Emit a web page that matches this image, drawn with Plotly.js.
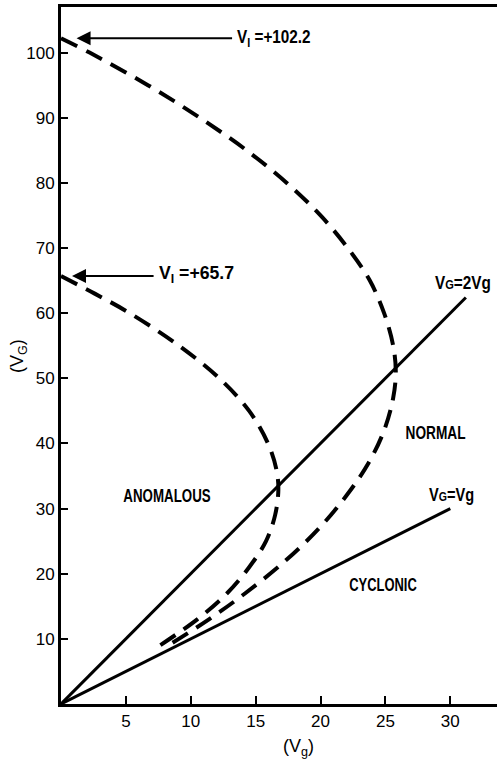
<!DOCTYPE html>
<html>
<head>
<meta charset="utf-8">
<script src="https://cdn.plot.ly/plotly-3.0.1.min.js"></script>
<style>
  html, body { margin: 0; padding: 0; background: #fff; }
  #chart { width: 497px; height: 761px; }
</style>
</head>
<body>
<div id="chart"></div>
<script>
// Gradient-wind speed (V_G) against geostrophic speed (V_g)
// Outer curve: V_I = +102.2
const outerVg = [0, 2.2, 6.7, 10.7, 14.3, 17.4, 20.0, 22.1, 23.8, 24.9, 25.6, 25.8, 25.6, 24.9, 23.7, 22.0, 19.9, 17.3, 14.2, 11.4, 8.6];
const outerVG = [102.2, 100, 95, 90, 85, 80, 75, 70, 65, 60, 55, 51, 47, 42, 37, 32, 27, 22, 17, 13, 9.4];

// Inner curve: V_I = +65.7
const innerVg = [0, 2.6, 5.3, 9.1, 12.2, 14.5, 15.95, 16.6, 16.75, 16.5, 15.8, 14.5, 12.8, 10.5, 7.4];
const innerVG = [65.7, 63, 60, 55, 50, 45, 40, 36, 32.9, 29, 25, 21, 17, 13, 8.7];

// Reference lines V_G = 2V_g and V_G = V_g
const doubleVg = [0, 31.2];
const doubleVG = [0, 62.4];
const equalVg = [0, 30];
const equalVG = [0, 30];

// Curve intercepts on the V_G axis
const interceptOuter = 102.2;
const interceptInner = 65.7;

const xTicks = [5, 10, 15, 20, 25, 30];
const yTicks = [10, 20, 30, 40, 50, 60, 70, 80, 90, 100];

const labelFont = { family: '"Liberation Sans", Arial, sans-serif', size: 18, color: '#000' };
const tickFont = { family: '"Liberation Sans", Arial, sans-serif', size: 17, color: '#000' };

const dashed = { color: '#000', width: 4, dash: '18px,10px', shape: 'spline', smoothing: 1 };
const solid = { color: '#000', width: 3 };

const traces = [
  { x: outerVg, y: outerVG, mode: 'lines', line: dashed, hoverinfo: 'skip' },
  { x: innerVg, y: innerVG, mode: 'lines', line: dashed, hoverinfo: 'skip' },
  { x: doubleVg, y: doubleVG, mode: 'lines', line: solid, hoverinfo: 'skip' },
  { x: equalVg, y: equalVG, mode: 'lines', line: solid, hoverinfo: 'skip' }
];

function arrowTo(yVal, headX, tailX) {
  return {
    x: headX, y: yVal, xref: 'x', yref: 'y',
    ax: tailX, ay: yVal, axref: 'x', ayref: 'y',
    text: '', showarrow: true, arrowhead: 2, arrowsize: 1.4, arrowwidth: 2,
    arrowcolor: '#000', standoff: 0, startstandoff: 0
  };
}

// Condensed lettering: each label carries a horizontal squeeze factor
const squeeze = [];
function label(text, x, y, xanchor, sx) {
  squeeze.push({ text: text, sx: sx, anchor: xanchor || 'center' });
  return {
    x: x, y: y, xref: 'x', yref: 'y', text: text, showarrow: false,
    xanchor: xanchor || 'center', yanchor: 'middle', font: labelFont
  };
}

const smallG = 'V<span style="font-size:13px">G</span>';

const annotations = [
  arrowTo(interceptOuter, 1.2, 13.3),
  label('<b>V<sub>I</sub> =+' + interceptOuter + '</b>', 13.4, 102.1, 'left', 0.85),
  arrowTo(interceptInner, 0.85, 7.25),
  label('<b>V<sub>I</sub> =+' + interceptInner + '</b>', 7.4, 65.9, 'left', 0.98),
  label('<b>' + smallG + '=2Vg</b>', 28.7, 64.6, 'left', 0.85),
  label('<b>' + smallG + '=Vg</b>', 28.2, 32.1, 'left', 0.81),
  label('<b>NORMAL</b>', 28.85, 41.6, 'center', 0.76),
  label('<b>ANOMALOUS</b>', 8.15, 32.0, 'center', 0.74),
  label('<b>CYCLONIC</b>', 24.8, 18.3, 'center', 0.72),
  {
    x: 18, y: 356, xref: 'paper', yref: 'paper', text: '(V<sub>G</sub>)', showarrow: false,
    textangle: -90, font: { family: tickFont.family, size: 18, color: '#000' }
  },
  {
    x: 298, y: 747, xref: 'paper', yref: 'paper', text: '(V<sub>g</sub>)', showarrow: false,
    font: { family: tickFont.family, size: 18, color: '#000' }
  }
];

// Axis titles are placed in pixels, converted to paper coordinates
const W = 497, H = 761, M = { l: 61, r: 0, t: 7, b: 57 };
annotations.forEach(a => {
  if (a.xref === 'paper') {
    a.x = (a.x - M.l) / (W - M.l - M.r);
    a.y = 1 - (a.y - M.t) / (H - M.t - M.b);
    a.xanchor = 'center';
    a.yanchor = 'middle';
  }
});

const layout = {
  width: W, height: H,
  margin: M,
  paper_bgcolor: '#fff', plot_bgcolor: '#fff',
  showlegend: false,
  xaxis: {
    range: [0, 33.6], tickvals: xTicks, ticktext: xTicks.map(String),
    ticks: 'inside', ticklen: 8, tickwidth: 2, tickcolor: '#000',
    showline: true, linewidth: 3, linecolor: '#000', mirror: true,
    showgrid: false, zeroline: false, tickfont: tickFont, fixedrange: true
  },
  yaxis: {
    range: [0, 107], tickvals: yTicks, ticktext: yTicks.map(String),
    ticks: 'inside', ticklen: 7, tickwidth: 2, tickcolor: '#000',
    showline: true, linewidth: 3, linecolor: '#000',
    showgrid: false, zeroline: false, tickfont: tickFont, fixedrange: true
  },
  annotations: annotations
};

// Squeeze the region labels horizontally to get a condensed face
function condenseLabels() {
  document.querySelectorAll('g.annotation text.annotation-text').forEach(t => {
    const entry = squeeze.find(s => t.dataset.unformatted === s.text);
    if (!entry) return;
    t.style.transformBox = 'fill-box';
    t.style.transformOrigin = entry.anchor === 'left' ? 'left center' : 'center center';
    t.style.transform = 'scaleX(' + entry.sx + ')';
  });
}

Plotly.newPlot('chart', traces, layout, { displayModeBar: false, staticPlot: true }).then(condenseLabels);
</script>
</body>
</html>
